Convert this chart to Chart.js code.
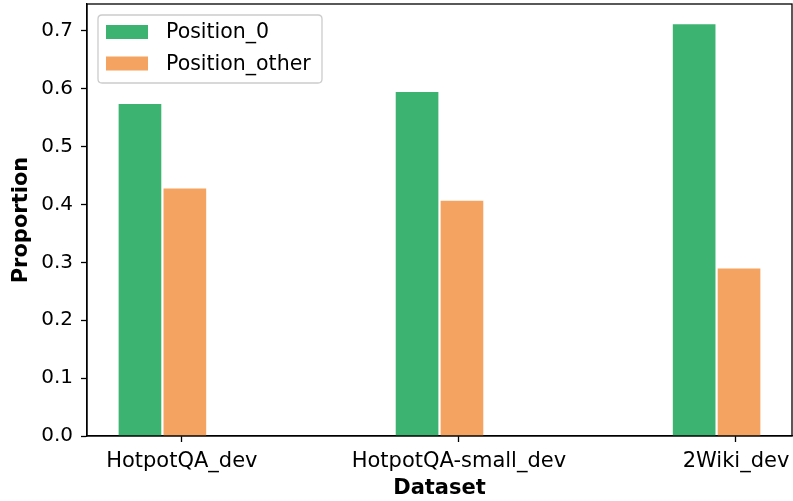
<!DOCTYPE html>
<html>
<head>
<meta charset="utf-8">
<script src="https://cdn.jsdelivr.net/npm/chart.js@4.4.1/dist/chart.umd.min.js"></script>
<style>
  html, body { margin: 0; padding: 0; background: #ffffff; }
  #wrap { width: 793px; height: 501px; }
</style>
</head>
<body>
<div id="wrap"><canvas id="chart" width="793" height="501"></canvas></div>
<script>
// Share of answers found at position 0 versus any other position, per dataset
const categories = ['HotpotQA_dev', 'HotpotQA-small_dev', '2Wiki_dev'];
const position0 = [0.573, 0.594, 0.711];
const positionOther = [0.427, 0.406, 0.289];
const yTicks = [0.0, 0.1, 0.2, 0.3, 0.4, 0.5, 0.6, 0.7];

const GREEN = '#3CB371';
const ORANGE = '#F4A460';
const FONT = "'DejaVu Sans', sans-serif";

// bar centres relative to each category tick (in category units)
const OFFSET_0 = -0.151;
const OFFSET_OTHER = 0.011;
const BAR_W = 0.151;

const ds0 = position0.map((v, i) => ({ x: i + OFFSET_0, y: v }));
const dsOther = positionOther.map((v, i) => ({ x: i + OFFSET_OTHER, y: v }));

// axis limits with a 5% margin around the bars
const xLo = Math.min(...ds0.map(p => p.x)) - BAR_W / 2;
const xHi = Math.max(...dsOther.map(p => p.x)) + BAR_W / 2;
const xPad = (xHi - xLo) * 0.05;
const yMax = Math.max(...position0, ...positionOther) * 1.05;

// full box frame around the plotting area plus an inset legend
const framePlugin = {
  id: 'frame',
  afterDatasetsDraw(chart) {
    const { ctx, chartArea: a } = chart;
    ctx.save();
    ctx.strokeStyle = '#000';
    ctx.lineWidth = 1.3;
    ctx.strokeRect(a.left, a.top, a.right - a.left, a.bottom - a.top);
    ctx.restore();
  },
  afterDraw(chart) {
    const { ctx, chartArea: a } = chart;
    const x0 = a.left + 11, y0 = a.top + 11, w = 224, h = 68;
    ctx.save();
    ctx.fillStyle = 'rgba(255,255,255,0.8)';
    ctx.strokeStyle = '#cccccc';
    ctx.lineWidth = 1.3;
    const r = 4;
    ctx.beginPath();
    ctx.moveTo(x0 + r, y0);
    ctx.lineTo(x0 + w - r, y0);
    ctx.quadraticCurveTo(x0 + w, y0, x0 + w, y0 + r);
    ctx.lineTo(x0 + w, y0 + h - r);
    ctx.quadraticCurveTo(x0 + w, y0 + h, x0 + w - r, y0 + h);
    ctx.lineTo(x0 + r, y0 + h);
    ctx.quadraticCurveTo(x0, y0 + h, x0, y0 + h - r);
    ctx.lineTo(x0, y0 + r);
    ctx.quadraticCurveTo(x0, y0, x0 + r, y0);
    ctx.closePath();
    ctx.fill();
    ctx.stroke();
    ctx.font = '20.5px ' + FONT;
    ctx.textBaseline = 'middle';
    ctx.textAlign = 'left';
    chart.data.datasets.forEach((d, i) => {
      const cy = y0 + 17 + i * 31.5;
      ctx.fillStyle = d.backgroundColor;
      ctx.fillRect(x0 + 8, cy - 7, 42, 14);
      ctx.fillStyle = '#000';
      ctx.fillText(d.label, x0 + 68, cy + 1);
    });
    ctx.restore();
  }
};

new Chart(document.getElementById('chart'), {
  type: 'bar',
  data: {
    datasets: [
      { label: 'Position_0', data: ds0, backgroundColor: GREEN, barThickness: 42, grouped: false },
      { label: 'Position_other', data: dsOther, backgroundColor: ORANGE, barThickness: 42, grouped: false }
    ]
  },
  options: {
    responsive: false,
    animation: false,
    devicePixelRatio: 1,
    layout: { padding: { top: 4, right: 1, left: 0, bottom: 0 } },
    plugins: { legend: { display: false }, tooltip: { enabled: false } },
    scales: {
      x: {
        type: 'linear',
        offset: false,
        min: xLo - xPad,
        max: xHi + xPad,
        afterBuildTicks(scale) { scale.ticks = categories.map((_, i) => ({ value: i })); },
        afterFit(scale) { scale.height = 65; scale.paddingLeft = 0; scale.paddingRight = 0; },
        grid: { offset: false, drawOnChartArea: false, drawTicks: true, tickLength: 6, color: '#000', tickWidth: 1.3 },
        border: { display: true, color: '#000', width: 1.3 },
        ticks: {
          autoSkip: false, maxRotation: 0, padding: 7, color: '#000',
          font: { family: FONT, size: 21 },
          callback: (v) => categories[Math.round(v)] ?? ''
        },
        title: {
          display: true, text: 'Dataset', color: '#000',
          font: { family: FONT, size: 21, weight: 'bold' }, padding: { top: 0, bottom: 0 }
        }
      },
      y: {
        min: 0,
        max: yMax,
        afterBuildTicks(scale) { scale.ticks = yTicks.map(v => ({ value: v })); },
        afterFit(scale) { scale.width = 87; scale.paddingTop = 0; scale.paddingBottom = 0; },
        grid: { drawOnChartArea: false, drawTicks: true, tickLength: 6, color: '#000', tickWidth: 1.3 },
        border: { display: true, color: '#000', width: 1.3 },
        ticks: {
          padding: 8, color: '#000',
          font: { family: FONT, size: 20 },
          callback: (v) => Number(v).toFixed(1)
        },
        title: {
          display: true, text: 'Proportion', color: '#000',
          font: { family: FONT, size: 21, weight: 'bold' }, padding: { top: 9, bottom: 0 }
        }
      }
    }
  },
  plugins: [framePlugin]
});
</script>
</body>
</html>
